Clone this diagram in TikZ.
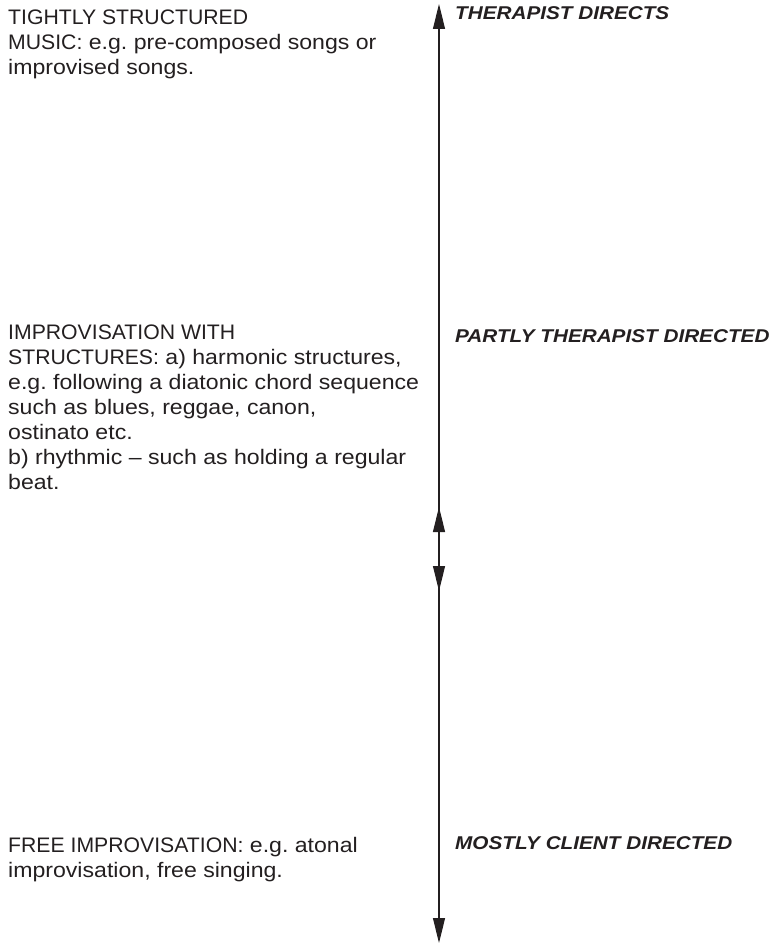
\documentclass[tikz,border=0pt]{standalone}
\usepackage{fontspec}
\setmainfont{Liberation Sans}
\newfontfamily\descfont[FakeStretch=1.10]{Liberation Sans}
\newfontfamily\capsfont[FakeStretch=1.01]{Liberation Sans}
\newfontfamily\rolefont[FakeStretch=1.12]{Liberation Sans}
\newcommand\uc[1]{{\capsfont #1}}
\usetikzlibrary{arrows.meta}
\definecolor{ink}{HTML}{231F20}
\tikzset{
  desc/.style={anchor=north west, inner sep=0pt, align=left, text=ink,
    font=\descfont\fontsize{21}{25}\selectfont\frenchspacing},
  role/.style={anchor=north west, inner sep=0pt, text=ink,
    font=\rolefont\fontsize{18.5}{21}\selectfont\bfseries\itshape},
  axis/.style={draw=ink, line width=1.1pt},
  tip/.style={-{Triangle[length=25pt,width=12pt]}}
}
\begin{document}
\begin{tikzpicture}[x=1pt,y=-1pt]
\useasboundingbox (0,0) rectangle (776,944);
% axis points
\coordinate (top) at (439,4);
\coordinate (mid) at (439,550);
\coordinate (ua) at (439,507);
\coordinate (da) at (439,591);
\coordinate (bot) at (439,943);
\draw[axis,tip] (mid) -- (top);
\draw[axis,tip] (mid) -- (ua);
\draw[axis,tip] (mid) -- (da);
\draw[axis,tip] (mid) -- (bot);
% left descriptions
\node[desc] (d1) at (8,10) {\uc{TIGHTLY STRUCTURED}\\\uc{MUSIC:} e.g. pre-composed songs or\\improvised songs.};
\node[desc] (d2) at (8,325) {\uc{IMPROVISATION WITH}\\\uc{STRUCTURES:} a) harmonic structures,\\e.g. following a diatonic chord sequence\\such as blues, reggae, canon,\\ostinato etc.\\b) rhythmic \textendash\ such as holding a regular\\beat.};
\node[desc] (d3) at (8,837) {\uc{FREE IMPROVISATION:} e.g. atonal\\improvisation, free singing.};
% right labels
\node[role] (r1) at (455,6) {THERAPIST DIRECTS};
\node[role] (r2) at (455,329) {PARTLY THERAPIST DIRECTED};
\node[role] (r3) at (455,836) {MOSTLY CLIENT DIRECTED};
\end{tikzpicture}
\end{document}
